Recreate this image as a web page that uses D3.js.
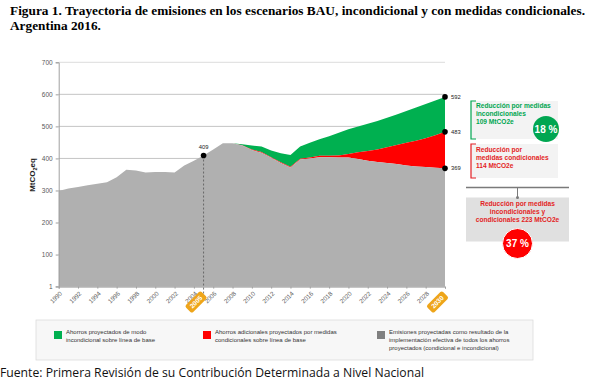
<!DOCTYPE html>
<html><head><meta charset="utf-8">
<script src="https://cdn.jsdelivr.net/npm/d3@7"></script>
<style>body{margin:0;background:#fff}svg{display:block}</style>
</head><body>
<svg id="c" width="593" height="382"></svg>
<script>
const years = d3.range(1990, 2031);
// Emissions with all projected savings implemented (gray)
const emisiones = [298,306,311,316,321,326,341,365,362,356,358,358,356,378,393,409,428,447,447,440,426,418,402,386,372,397,400,404,404,403,403,398,393,389,386,383,378,375,373,371,369];
// Unconditional scenario (top of red band)
const condicional = [298,306,311,316,321,326,341,365,362,356,358,358,356,378,393,409,428,447,447,441,428,420,404,388,374,399,403,408,408,409,414,419,423,428,435,442,449,455,463,472,483];
// BAU (top of green band)
const bau = [298,306,311,316,321,326,341,365,362,356,358,358,356,378,393,409,428,447,447,444,440,437,425,416,411,437,449,460,469,480,491,500,508,517,527,537,548,559,570,581,592];
const yTicks = [1,100,200,300,400,500,600,700];
const yTickLabels = ["1","100","200","300","400","500","600","700"];
const xTickYears = d3.range(1990, 2031, 2);
const badgeYears = [2005, 2030];
const markers = [{year:2005, value:409, side:"top"},{year:2030,value:592,side:"right"},{year:2030,value:483,side:"right"},{year:2030,value:369,side:"right"}];
const titleLines = ["Figura 1. Trayectoria de emisiones en los escenarios BAU, incondicional y con medidas condicionales.","Argentina 2016."];
const legendItems = [
 {color:"#00b050", lines:["Ahorros proyectados de modo","incondicional sobre línea de base"]},
 {color:"#ff0000", lines:["Ahorros adicionales proyectados por medidas","condicionales sobre línea de base"]},
 {color:"#808080", lines:["Emisiones proyectadas como resultado de la","implementación efectiva de todos los ahorros","proyectados (condicional e incondicional)"]}
];

const svg = d3.select("#c");
const x = d3.scaleLinear().domain([1990,2030]).range([58.7,445]);
const y = d3.scaleLinear().domain([0,700]).range([286.6,62.3]);
const fontS = "Liberation Sans, Arial, sans-serif";

// title
svg.append("text").attr("x",10).attr("y",15).attr("textLength",575).attr("lengthAdjust","spacing")
  .attr("font-family","Liberation Serif, Times New Roman, serif").attr("font-weight","bold").attr("font-size",13.3)
  .text(titleLines[0]);
svg.append("text").attr("x",10).attr("y",30)
  .attr("font-family","Liberation Serif, Times New Roman, serif").attr("font-weight","bold").attr("font-size",13.3)
  .text(titleLines[1]);

// gridlines
svg.append("g").selectAll("line").data(yTicks).join("line")
  .attr("x1",x(1990)).attr("x2",x(2030)).attr("y1",d=>y(d)).attr("y2",d=>y(d))
  .attr("stroke",d=>d===700?"#dcdcdc":"#c4c4c4").attr("stroke-width",1);

// areas
const band = (lo,hi)=>d3.area().x((d,i)=>x(years[i])).y0((d,i)=>y(lo[i])).y1((d,i)=>y(hi[i]));
const zeros = years.map(()=>0);
svg.append("path").datum(years).attr("d",band(condicional,bau)).attr("fill","#00b050");
svg.append("path").datum(years).attr("d",band(emisiones,condicional)).attr("fill","#ff0000");
svg.append("path").datum(years).attr("d",band(zeros,emisiones)).attr("fill","#b0b0b0");

// y axis
const yAxis = d3.axisLeft(y).tickValues(yTicks).tickFormat((d,i)=>yTickLabels[i]).tickSize(3).tickPadding(3);
const gy = svg.append("g").attr("transform",`translate(${x(1990)},0)`).call(yAxis);
gy.select(".domain").attr("stroke","#a0a0a0");
gy.selectAll(".tick line").attr("stroke","#a0a0a0");
gy.selectAll("text").attr("font-family",fontS).attr("font-size",6.5).attr("fill","#595959");

// y label
const yl = svg.append("text").attr("transform","translate(35,175) rotate(-90)").attr("text-anchor","middle")
  .attr("font-family",fontS).attr("font-weight","bold").attr("font-size",8).attr("fill","#222");
yl.append("tspan").text("MtCO");
yl.append("tspan").attr("font-size",5.5).attr("dy",2).text("2");
yl.append("tspan").attr("dy",-2).text("eq");

// x axis
const xAxis = d3.axisBottom(x).tickValues(xTickYears).tickFormat(d3.format("d")).tickSize(2).tickPadding(2);
const gx = svg.append("g").attr("transform",`translate(0,${y(0)})`).call(xAxis);
gx.select(".domain").attr("stroke","#a0a0a0");
gx.selectAll(".tick line").attr("stroke","#a0a0a0");
gx.selectAll(".tick text")
  .attr("x",0).attr("y",0).attr("dy","0.3em").attr("dx",0)
  .attr("font-family",fontS).attr("font-size",6.3).attr("fill","#595959")
  .attr("text-anchor","end").attr("transform","translate(2,6) rotate(-45)")
  .style("opacity",d=>badgeYears.includes(d)?0:1);

// dashed line at 2005
svg.append("line").attr("x1",x(2005)).attr("x2",x(2005)).attr("y1",y(409)).attr("y2",y(0)+8)
  .attr("stroke","#555").attr("stroke-dasharray","2,2").attr("stroke-width",0.8);

// badges
badgeYears.forEach(yr=>{
  const g = svg.append("g").attr("transform",`translate(${x(yr)-7.5},302) rotate(-45)`);
  g.append("rect").attr("x",-11).attr("y",-5).attr("width",22).attr("height",10).attr("rx",2).attr("fill","#eea51a");
  g.append("text").attr("text-anchor","middle").attr("dy","0.35em").attr("font-family",fontS)
   .attr("font-weight","bold").attr("font-size",6.5).attr("fill","#fff").text(yr);
});

// markers
markers.forEach(m=>{
  svg.append("circle").attr("cx",x(m.year)).attr("cy",y(m.value)).attr("r",2.8).attr("fill","#000");
  if(m.side==="top") svg.append("text").attr("x",x(m.year)).attr("y",y(m.value)-7).attr("text-anchor","middle")
     .attr("font-family",fontS).attr("font-size",5.8).attr("fill","#222").text(m.value);
  else svg.append("text").attr("x",x(m.year)+6).attr("y",y(m.value)+2).attr("font-family",fontS)
     .attr("font-size",5.8).attr("fill","#222").text(m.value);
});

// right annotations
function bracketBox(x0,y0,w,h,color,lines,ty){
  svg.append("rect").attr("x",x0).attr("y",y0).attr("width",w).attr("height",h).attr("fill","#f3f3f3");
  svg.append("path").attr("d",`M${x0+5},${y0}H${x0}V${y0+h}H${x0+5}`).attr("fill","none").attr("stroke",color).attr("stroke-width",1.2);
  lines.forEach((l,i)=>svg.append("text").attr("x",x0+5).attr("y",ty+i*8).attr("font-family",fontS).attr("font-weight","bold")
     .attr("font-size",6.6).attr("fill",color).text(l));
}
bracketBox(471,101,87,38,"#00a651",["Reducción  por medidas","incondicionales","109 MtCO2e"],108);
svg.append("circle").attr("cx",546).attr("cy",129).attr("r",13).attr("fill","#00a651");
svg.append("text").attr("x",546).attr("y",129).attr("dy","0.35em").attr("text-anchor","middle").attr("font-family",fontS)
  .attr("font-weight","bold").attr("font-size",10).attr("fill","#fff").text("18 %");
bracketBox(471,144,87,34,"#e31e24",["Reducción  por","medidas  condicionales","114 MtCO2e"],152);

svg.append("line").attr("x1",466).attr("x2",569).attr("y1",187.5).attr("y2",187.5).attr("stroke","#7a7a7a").attr("stroke-width",1.3);
svg.append("line").attr("x1",517.5).attr("x2",517.5).attr("y1",187.5).attr("y2",197).attr("stroke","#7a7a7a").attr("stroke-width",1);
svg.append("rect").attr("x",466).attr("y",197.5).attr("width",103).attr("height",44).attr("fill","#e0e0e0");
svg.append("circle").attr("cx",517.5).attr("cy",197.5).attr("r",1.5).attr("fill","#7a7a7a");
["Reducción  por medidas","incondicionales  y","condicionales  223 MtCO2e"].forEach((l,i)=>
  svg.append("text").attr("x",517.5).attr("y",206+i*8).attr("text-anchor","middle").attr("font-family",fontS)
   .attr("font-weight","bold").attr("font-size",6.6).attr("fill","#e31e24").text(l));
svg.append("circle").attr("cx",517.5).attr("cy",243.5).attr("r",15).attr("fill","#ff0000").attr("stroke","#fff").attr("stroke-width",1);
svg.append("text").attr("x",517.5).attr("y",243.5).attr("dy","0.35em").attr("text-anchor","middle").attr("font-family",fontS)
  .attr("font-weight","bold").attr("font-size",10).attr("fill","#fff").text("37 %");

// legend
svg.append("rect").attr("x",36).attr("y",320).attr("width",497).attr("height",40).attr("fill","#f7f7f7").attr("stroke","#dcdcdc").attr("stroke-width",0.8);
const legX = [54,203,377];
legendItems.forEach((it,i)=>{
  svg.append("rect").attr("x",legX[i]).attr("y",331).attr("width",8).attr("height",8).attr("fill",it.color);
  it.lines.forEach((l,j)=>svg.append("text").attr("x",legX[i]+12).attr("y",334+j*8).attr("font-family",fontS)
    .attr("font-size",6).attr("fill","#333").text(l));
});

// source
svg.append("text").attr("x",0).attr("y",377).attr("textLength",424).attr("lengthAdjust","spacingAndGlyphs")
  .attr("font-family","Open Sans, sans-serif").attr("font-size",12).attr("fill","#111")
  .text("Fuente: Primera Revisión de su Contribución Determinada a Nivel Nacional");
</script>
</body></html>
